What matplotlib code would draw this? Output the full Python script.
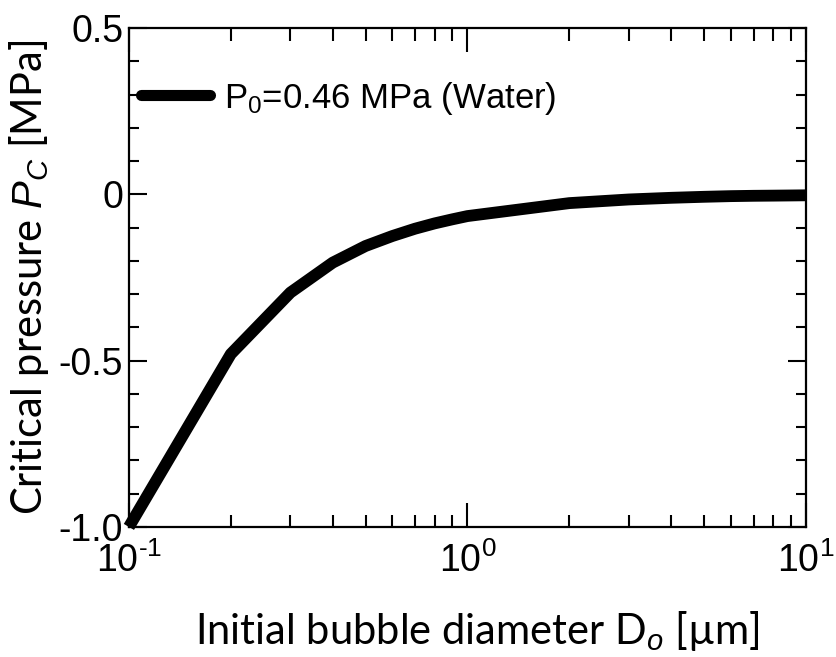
import matplotlib
matplotlib.use("Agg")
import matplotlib.pyplot as plt
from matplotlib.ticker import LogLocator, MultipleLocator, NullFormatter

# critical pressure vs. initial bubble diameter
diameter_um = [0.1, 0.2, 0.3, 0.4, 0.5, 0.6, 0.7, 0.8, 0.9, 1.0,
               2.0, 3.0, 4.0, 5.0, 6.0, 7.0, 8.0, 9.0, 10.0]
pc_mpa = [-1.00, -0.48, -0.295, -0.205, -0.155, -0.125, -0.103, -0.087, -0.075, -0.065,
          -0.026, -0.015, -0.010, -0.007, -0.005, -0.004, -0.0035, -0.003, -0.0025]
series_label = r"P$_0$=0.46 MPa (Water)"

ytick_vals = [0.5, 0, -0.5, -1.0]
ytick_text = ["0.5", "0", "-0.5", "-1.0"]
xtick_vals = [0.1, 1, 10]
xtick_text = [r"10$^{\text{-1}}$", r"10$^{\text{0}}$", r"10$^{\text{1}}$"]

narrow = ["Liberation Sans", "DejaVu Sans"]
label_font = ["Lato", "DejaVu Sans"]

plt.rcParams["axes.unicode_minus"] = False
plt.rcParams["mathtext.fontset"] = "custom"
plt.rcParams["mathtext.rm"] = "Liberation Sans"
plt.rcParams["mathtext.it"] = "Liberation Sans:italic"

fig = plt.figure(figsize=(8.37, 6.57), dpi=100)
ax = fig.add_axes([0.154, 0.198, 0.809, 0.759])

ax.plot(diameter_um, pc_mpa, color="black", lw=8.5, solid_capstyle="butt",
        solid_joinstyle="round", label=series_label, clip_on=False)

ax.set_xscale("log")
ax.set_xlim(0.1, 10)
ax.set_ylim(-1.0, 0.5)

ax.set_yticks(ytick_vals)
ax.set_yticklabels(ytick_text, family=narrow, fontsize=27)
ax.yaxis.set_minor_locator(MultipleLocator(0.1))
ax.xaxis.set_minor_locator(LogLocator(base=10, subs=range(2, 10)))
ax.xaxis.set_minor_formatter(NullFormatter())
ax.set_xticks(xtick_vals)
ax.set_xticklabels(xtick_text, family=narrow, fontsize=27)

ax.tick_params(which="both", direction="in", top=True, right=True, width=1.5, color="black")
ax.tick_params(axis="x", which="major", length=17, pad=11)
ax.tick_params(axis="x", which="minor", length=9)
ax.tick_params(axis="y", which="major", length=13, pad=4)
ax.tick_params(axis="y", which="minor", length=7)
for s in ax.spines.values():
    s.set_linewidth(1.6)

ax.set_xlabel(r"Initial bubble diameter D$_{\it{o}}$ [µm]", family=label_font,
              fontsize=30, labelpad=20)
ax.xaxis.set_label_coords(0.515, -0.165)
ax.set_ylabel(r"Critical pressure $\it{P_C}$ [MPa]", family=label_font,
              fontsize=30, labelpad=6)

leg = ax.legend(loc="upper left", frameon=False, prop={"family": narrow, "size": 25},
                handlelength=2.0, handletextpad=0.4, borderaxespad=0.0,
                bbox_to_anchor=(-0.003, 0.925))
for h in leg.get_lines():
    h.set_linewidth(8)
    h.set_solid_capstyle("round")

fig.savefig("out.png", dpi=100)
